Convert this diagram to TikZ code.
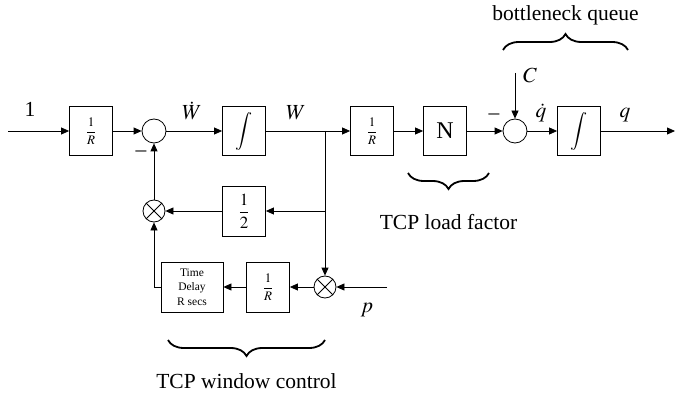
\documentclass[tikz,border=0pt]{standalone}
\usepackage{mathptmx}
\usepackage{fontspec}
\setmainfont{Liberation Serif}
\usetikzlibrary{arrows.meta, decorations.pathreplacing, positioning}

\begin{document}
\begin{tikzpicture}[x=1pt, y=-1pt, line width=0.8pt,
    every node/.style={font=\fontsize{21.5}{24}\selectfont, inner sep=0pt},
    blk/.style={draw, minimum width=43pt, minimum height=49pt},
    sum/.style={draw, circle, minimum size=24pt},
    mul/.style={draw, circle, minimum size=22pt, path picture={
        \draw (path picture bounding box.north west) -- (path picture bounding box.south east)
              (path picture bounding box.north east) -- (path picture bounding box.south west);}},
    arr/.style={-{Triangle[length=8pt, width=7pt]}},
    brc/.style={decorate, decoration={brace, amplitude=16pt}, line width=1.8pt}]
    \useasboundingbox (0,0) rectangle (675,401);

    % forward path
    \coordinate (in) at (8,131);
    \node[blk] (gain1) at (91,131) {\fontsize{13}{15}\selectfont$\displaystyle\frac{1}{R}$};
    \node[sum] (s1) at (154,131) {};
    \node[blk] (int1) at (244,131) {\fontsize{19}{21}\selectfont$\displaystyle\int$};
    \coordinate (j1) at (325,131);
    \node[blk] (gain2) at (372,131) {\fontsize{13}{15}\selectfont$\displaystyle\frac{1}{R}$};
    \node[blk] (load) at (445,131) {\fontsize{24}{26}\selectfont N};
    \node[sum] (s2) at (515,131) {};
    \node[blk] (int2) at (579,131) {\fontsize{19}{21}\selectfont$\displaystyle\int$};
    \coordinate (out) at (675,131);
    \coordinate (cin) at (515,73);

    % feedback path
    \node[blk, minimum height=50pt] (half) at (244,211) {\fontsize{17}{19}\selectfont$\displaystyle\frac{1}{2}$};
    \node[mul] (m1) at (154,211) {};
    \coordinate (j2) at (j1 |- half);
    \node[mul] (m2) at (325,287) {};
    \coordinate (pin) at (387,287);
    \node[blk, minimum height=50pt] (gain3) at (268,287) {\fontsize{13}{15}\selectfont$\displaystyle\frac{1}{R}$};
    \node[blk, minimum width=62pt, minimum height=50pt, align=center, font=\fontsize{11.5}{14.5}\selectfont] (delay) at (192,287) {Time\\Delay\\R secs};

    \foreach \a/\b in {in/gain1, gain1/s1, s1/int1, int1/gain2, gain2/load, load/s2, s2/int2, int2/out,
                       cin/s2, j1/m2, j2/half, pin/m2, m2/gain3, gain3/delay, half/m1, m1/s1} {
        \draw[arr] (\a) -- (\b);
    }
    \draw[arr] (delay.west) -| (m1);

    % signal labels
    \node[anchor=base] (lin) at (30,117) {1};
    \node[anchor=base] (lwdot) at (192,120) {$\dot{W}$};
    \node[anchor=base] (lw) at (296,120) {$W$};
    \node[anchor=base] (lqdot) at (541,118) {$\dot{q}$};
    \node[anchor=base] (lq) at (625,118) {$q$};
    \node[anchor=base] (lc) at (530,83) {$C$};
    \node[anchor=base] (lp) at (367,312) {$p$};
    \node (neg1) at (141,154) {--};
    \node (neg2) at (494,117) {--};

    % braces
    \draw[brc] (503,50) -- (628,50) node[midway, above=24pt] (lqueue) {bottleneck queue};
    \draw[brc, decoration={mirror}] (408,173) -- (489,173) node[midway, below=40pt] (lload) {TCP load factor};
    \draw[brc, decoration={mirror}] (168,340) -- (325,340) node[midway, below=33pt] (lwin) {TCP window control};
\end{tikzpicture}
\end{document}
